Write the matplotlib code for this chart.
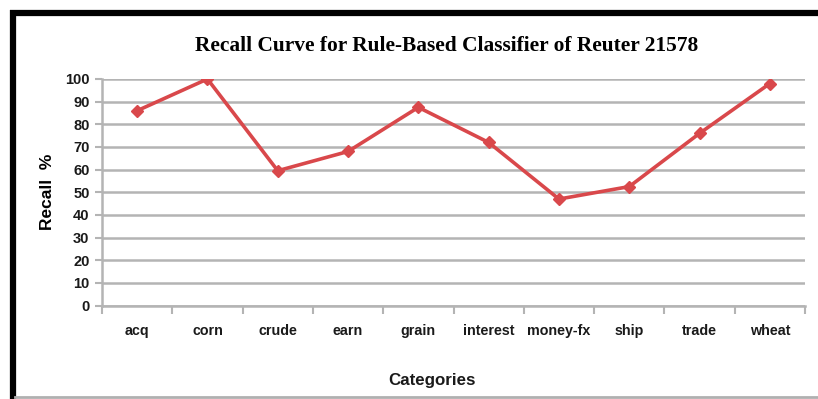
import numpy as np
import matplotlib.pyplot as plt
from matplotlib.lines import Line2D

# ---- data ----
categories = ["acq", "corn", "crude", "earn", "grain", "interest",
              "money-fx", "ship", "trade", "wheat"]
recall = [86, 100, 59.5, 68, 87.5, 72, 47, 52.5, 76, 98]
y_ticks = list(range(0, 101, 10))

LINE_COLOR = "#d9484b"
GRID_COLOR = "#b4b4b4"
TICK_FONT = ["Liberation Sans", "DejaVu Sans"]

W, H = 818, 399
fig = plt.figure(figsize=(W / 100, H / 100), dpi=100)
ax = fig.add_axes([102 / W, 1 - 305.5 / H, (805 - 102) / W, (305.5 - 79) / H])

x = np.arange(len(categories))
ax.plot(x, recall, color=LINE_COLOR, lw=2.6, marker="D", ms=6.5,
        mec=LINE_COLOR, mfc=LINE_COLOR, zorder=3)

ax.set_xlim(-0.5, len(categories) - 0.5)
ax.set_ylim(0, 100)
ax.set_yticks(y_ticks)
ax.yaxis.grid(True, color=GRID_COLOR, lw=1.8)
ax.set_axisbelow(True)

# category labels centred, tick marks on the boundaries
ax.set_xticks(x)
ax.set_xticklabels(categories, family=TICK_FONT, fontweight="bold",
                   fontsize=10.3, color="#1a1a1a")
ax.set_xticks(np.arange(-0.5, len(categories), 1), minor=True)
ax.tick_params(axis="x", which="major", length=0, pad=13)
ax.tick_params(axis="x", which="minor", length=6, width=1.5, color=GRID_COLOR)
ax.tick_params(axis="y", length=5, width=1.5, color=GRID_COLOR, pad=4)
for lab in ax.get_yticklabels():
    lab.set_family(TICK_FONT)
    lab.set_fontweight("bold")
    lab.set_fontsize(10.5)
    lab.set_color("#1a1a1a")

for s in ["top", "right"]:
    ax.spines[s].set_visible(False)
for s in ["left", "bottom"]:
    ax.spines[s].set_color(GRID_COLOR)
    ax.spines[s].set_linewidth(1.8)

fig.text(447 / W, 1 - 46 / H, "Recall Curve for Rule-Based Classifier of Reuter 21578",
         ha="center", va="center", family="Liberation Serif",
         fontweight="bold", fontsize=15.4)
fig.text(48 / W, 1 - 192 / H, "Recall  %", rotation=90, ha="center", va="center",
         family="Liberation Sans", fontweight="bold", fontsize=12.5)
fig.text(432 / W, 1 - 381 / H, "Categories", ha="center", va="center",
         family=TICK_FONT, fontweight="bold", fontsize=12.2, color="#1a1a1a")

# outer frame
fig.add_artist(Line2D([13 / W, 13 / W], [0, 1 - 10 / H], color="black", lw=4.5,
                      transform=fig.transFigure, solid_capstyle="butt"))
fig.add_artist(Line2D([10 / W, 1], [1 - 12.5 / H, 1 - 12.5 / H], color="black", lw=4.5,
                      transform=fig.transFigure, solid_capstyle="butt"))
fig.add_artist(Line2D([15 / W, 1], [1 - 396.5 / H, 1 - 396.5 / H], color="#b0b0b0", lw=2,
                      transform=fig.transFigure))

fig.savefig("out.png", dpi=100)
